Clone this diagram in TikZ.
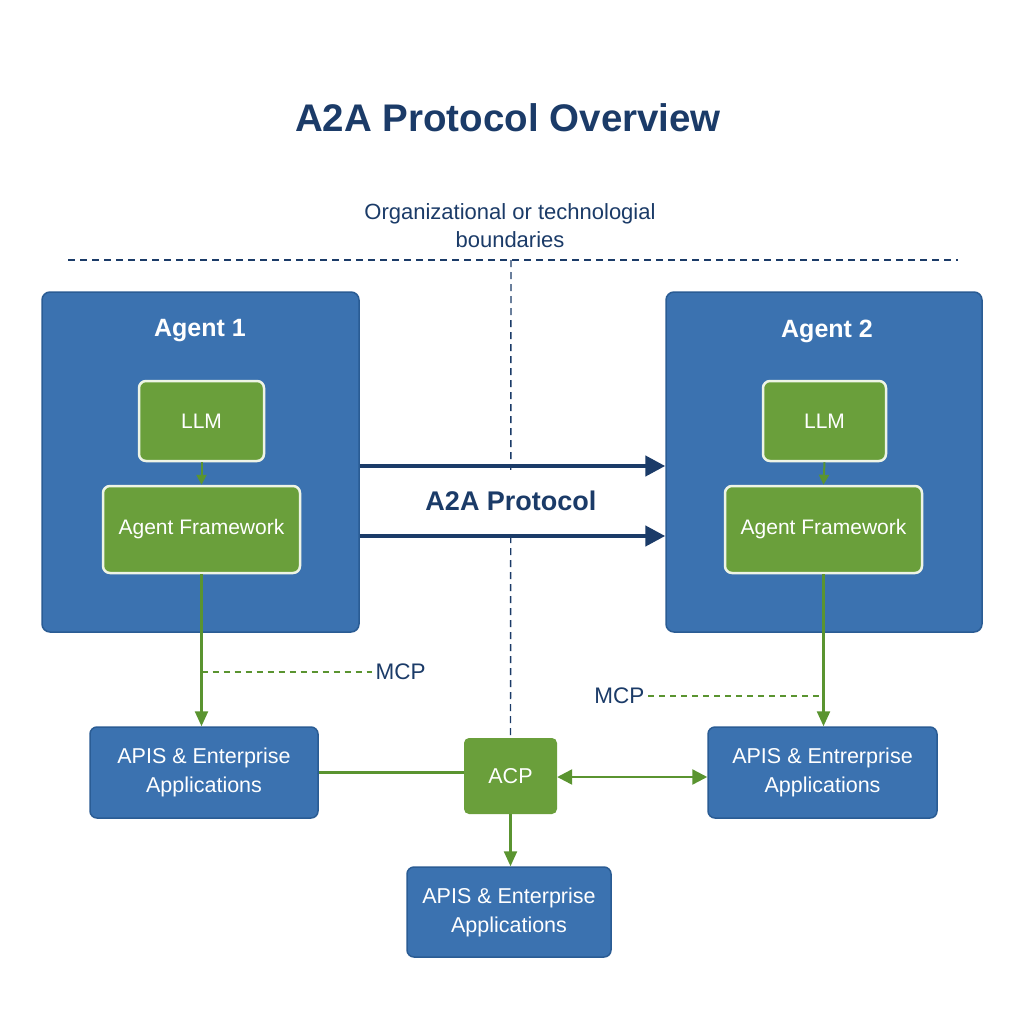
\documentclass[tikz,border=0pt]{standalone}
\usepackage{fontspec}
\setmainfont{Liberation Sans}
\usetikzlibrary{arrows.meta,calc}
\definecolor{bluefill}{HTML}{3B72B0}
\definecolor{blueedge}{HTML}{2A5C94}
\definecolor{greenfill}{HTML}{6A9F3B}
\definecolor{greenline}{HTML}{5A9430}
\definecolor{navy}{HTML}{1B3B68}
\definecolor{greenedge}{HTML}{EEF4E6}
\tikzset{
  agentbox/.style={draw=blueedge, line width=1.5pt, fill=bluefill, rounded corners=8pt},
  apibox/.style={draw=blueedge, line width=1.5pt, fill=bluefill, rounded corners=7pt, text=white, font=\fontsize{21.5}{29}\selectfont, align=center},
  innerbox/.style={draw=greenedge, line width=2.5pt, fill=greenfill, rounded corners=7pt, text=white, font=\fontsize{21}{25}\selectfont},
  acpbox/.style={fill=greenfill, rounded corners=5pt, text=white, font=\fontsize{21.5}{25}\selectfont},
  boundary/.style={draw=navy, line width=1.4pt, dash pattern=on 7pt off 5pt},
  mcpdash/.style={draw=greenline, line width=1.8pt, dash pattern=on 6pt off 5pt},
  greenarrow/.style={draw=greenline, line width=2.4pt, -{Triangle[length=15pt,width=13pt]}},
  greenline/.style={draw=greenline, line width=2.4pt},
  a2aarrow/.style={draw=navy, line width=4.5pt, -{Triangle[length=20pt,width=20pt]}},
  lbl/.style={text=navy}
}
\begin{document}
\begin{tikzpicture}[x=1pt,y=-1pt]
\useasboundingbox (0,0) rectangle (1024,1024);
\fill[white] (0,0) rectangle (1024,1024);

% title
\node[lbl, font=\bfseries\fontsize{38.5}{44}\selectfont] (title) at (508,118) {A2A Protocol Overview};
\node[lbl, font=\fontsize{22}{28}\selectfont, align=center] (bound) at (510,226) {Organizational or technologial\\boundaries};

% boundaries
\coordinate (hl) at (68,260);
\coordinate (hr) at (958,260);
\coordinate (vt) at (511,260);
\draw[boundary] (hl) -- (hr);

% agents
\node[agentbox, minimum width=317pt, minimum height=340pt] (Agent1) at (200.5,462) {};
\node[agentbox, minimum width=316pt, minimum height=340pt] (Agent2) at (824,462) {};
\node[text=white, font=\bfseries\fontsize{25}{28}\selectfont] (A1t) at (200,331) {Agent 1};
\node[text=white, font=\bfseries\fontsize{25}{28}\selectfont] (A2t) at (827,331) {Agent 2};

\node[innerbox, minimum width=125pt, minimum height=80pt] (LLM1) at (201.5,421) {LLM};
\node[innerbox, minimum width=197pt, minimum height=87pt] (AF1) at (201.5,529.5) {Agent Framework};
\node[innerbox, minimum width=123pt, minimum height=80pt] (LLM2) at (824.5,421) {LLM};
\node[innerbox, minimum width=197pt, minimum height=87pt] (AF2) at (823.5,529.5) {Agent Framework};

\draw[greenline, line width=2pt, -{Triangle[length=10pt,width=10pt]}] (LLM1.south) -- (AF1.north);
\draw[greenline, line width=2pt, -{Triangle[length=10pt,width=10pt]}] (LLM2.south) -- (AF2.north);

% bottom boxes
\node[apibox, minimum width=228pt, minimum height=91pt] (API1) at (204,772.5) {APIS \& Enterprise\\Applications};
\node[acpbox, minimum width=93pt, minimum height=76pt] (ACP) at (510.5,776) {ACP};
\node[apibox, minimum width=229pt, minimum height=91pt] (API2) at (822.5,772.5) {APIS \& Entrerprise\\Applications};
\node[apibox, minimum width=204pt, minimum height=90pt] (API3) at (509,912) {APIS \& Enterprise\\Applications};

% vertical boundary
\draw[boundary] (vt) -- (ACP.north);

% A2A
\node[lbl, fill=white, font=\bfseries\fontsize{27}{30}\selectfont, minimum height=62pt, inner xsep=2pt] (A2A) at (511,501) {A2A Protocol};
\draw[a2aarrow] ([yshift=-4pt]Agent1.east) -- ([yshift=-4pt]Agent2.west);
\draw[a2aarrow] ([yshift=-74pt]Agent1.east) -- ([yshift=-74pt]Agent2.west);

% MCP
\node[lbl, font=\fontsize{22.5}{26}\selectfont, anchor=west] (MCP1) at (372,672) {MCP};
\node[lbl, font=\fontsize{22.5}{26}\selectfont, anchor=east] (MCP2) at (648,696) {MCP};
\draw[mcpdash] (AF1.south |- MCP1.west) -- (MCP1.west);
\draw[mcpdash] (MCP2.east) -- (AF2.south |- MCP2.east);

\draw[greenarrow] (AF1.south) -- (AF1.south |- API1.north);
\draw[greenarrow] (AF2.south) -- (AF2.south |- API2.north);

% ACP connections
\draw[greenline] (API1.east) -- (API1.east -| ACP.west);
\draw[greenline, {Triangle[length=15pt,width=15pt]}-{Triangle[length=15pt,width=15pt]}] ([yshift=-1pt]ACP.east) -- ([yshift=-1pt]ACP.east -| API2.west);
\draw[greenarrow] (ACP.south) -- (ACP.south |- API3.north);
\end{tikzpicture}
\end{document}
